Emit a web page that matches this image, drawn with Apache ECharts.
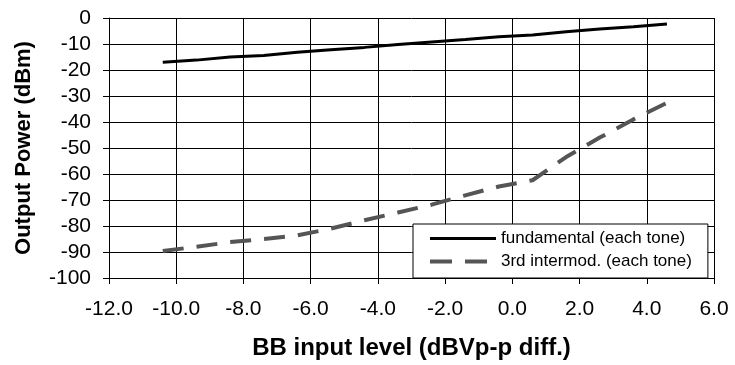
<!DOCTYPE html>
<html>
<head>
<meta charset="utf-8">
<script src="https://cdn.jsdelivr.net/npm/echarts@6/dist/echarts.min.js"></script>
<style>
  html, body { margin: 0; padding: 0; background: #fff; }
  #chart { width: 735px; height: 365px; }
</style>
</head>
<body>
<div id="chart"></div>
<script>
// BB input level sweep (dBVp-p diff.)
var inputLevel = [-10.4, -9.4, -8.4, -7.4, -6.4, -5.4, -4.4, -3.4, -2.4, -1.4, -0.4, 0.6, 1.6, 2.6, 3.6, 4.6];
// Output power of the fundamental, each tone (dBm)
var fundamental = [-17.0, -16.2, -15.0, -14.4, -13.2, -12.2, -11.3, -10.2, -9.2, -8.3, -7.2, -6.5, -5.3, -4.2, -3.4, -2.3];
// Output power of the 3rd-order intermodulation product, each tone (dBm)
var intermod3 = [-89.6, -88.0, -86.2, -85.0, -83.6, -81.0, -77.8, -74.8, -71.8, -68.2, -64.8, -62.4, -53.5, -46.0, -39.0, -32.6];

var seriesNames = ['fundamental (each tone)', '3rd intermod. (each tone)'];

function pairs(xs, ys) {
  return xs.map(function (x, i) { return [x, ys[i]]; });
}

var FONT = 'Liberation Sans, Arial, sans-serif';
var chart = echarts.init(document.getElementById('chart'), null, { renderer: 'canvas' });

chart.setOption({
  animation: false,
  backgroundColor: '#ffffff',
  grid: { left: 109, right: 21, top: 18, bottom: 87, show: false },
  xAxis: {
    type: 'value', min: -12, max: 6, interval: 2,
    name: 'BB input level (dBVp-p diff.)',
    nameLocation: 'middle', nameGap: 58,
    nameTextStyle: { fontFamily: FONT, fontWeight: 'bold', fontSize: 24, color: '#000' },
    axisLine: { show: true, onZero: false, lineStyle: { color: '#000', width: 1 } },
    axisTick: { show: true, inside: false, length: 6, lineStyle: { color: '#000' } },
    axisLabel: {
      margin: 21, fontFamily: FONT, fontSize: 21, color: '#000',
      formatter: function (v) { return v.toFixed(1); }
    },
    splitLine: { show: true, lineStyle: { color: '#000', width: 1 } }
  },
  yAxis: {
    type: 'value', min: -100, max: 0, interval: 10,
    name: 'Output Power (dBm)',
    nameLocation: 'middle', nameGap: 74, nameRotate: 90,
    nameTextStyle: { fontFamily: FONT, fontWeight: 'bold', fontSize: 22, color: '#000' },
    axisLine: { show: true, onZero: false, lineStyle: { color: '#000', width: 1 } },
    axisTick: { show: true, inside: false, length: 6, lineStyle: { color: '#000' } },
    axisLabel: { margin: 18, fontFamily: FONT, fontSize: 21, color: '#000' },
    splitLine: { show: true, lineStyle: { color: '#000', width: 1 } }
  },
  legend: {
    orient: 'vertical',
    left: 413, top: 224,
    padding: [6, 16, 8, 15],
    itemGap: 6,
    itemWidth: 66, itemHeight: 14,
    backgroundColor: '#ffffff',
    borderColor: '#000', borderWidth: 1, borderRadius: 0,
    textStyle: { fontFamily: FONT, fontSize: 17, color: '#000' },
    data: [
      { name: seriesNames[0], itemStyle: { opacity: 0 }, lineStyle: { color: '#000', width: 3, type: 'solid', opacity: 1 } },
      { name: seriesNames[1], itemStyle: { opacity: 0 }, lineStyle: { color: '#555', width: 4, type: [22, 13], opacity: 1 } }
    ]
  },
  series: [
    {
      name: seriesNames[0], type: 'line', symbol: 'none', smooth: false,
      data: pairs(inputLevel, fundamental),
      lineStyle: { color: '#000', width: 3, cap: 'butt' },
      itemStyle: { color: '#000' }
    },
    {
      name: seriesNames[1], type: 'line', symbol: 'none', smooth: false,
      data: pairs(inputLevel, intermod3),
      lineStyle: { color: '#555', width: 4, type: [21, 13], cap: 'butt' },
      itemStyle: { color: '#555' }
    }
  ]
});
</script>
</body>
</html>
